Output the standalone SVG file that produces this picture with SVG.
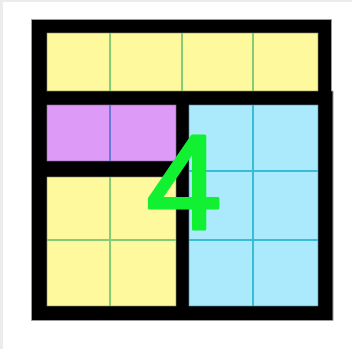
<svg xmlns="http://www.w3.org/2000/svg" width="352" height="349" viewBox="0 0 352 349">
<style>
.frame{fill:#000;stroke:#9a9a9a;stroke-width:1}
.y{fill:#fff99e;stroke:#8a8a6a;stroke-width:0.6}
.p{fill:#de9af7;stroke:#8a6a9a;stroke-width:0.6}
.b{fill:#aaeafc;stroke:#5a8a9a;stroke-width:0.6}
.gy{stroke:#86cc78;stroke-width:2}
.gp{stroke:#6a78d8;stroke-width:2}
.gb{stroke:#38bcd8;stroke-width:2}
.num{font-family:"Liberation Sans",Arial,sans-serif;font-size:136px;fill:#12f032;stroke:#12f032;stroke-width:3;stroke-linejoin:round}
</style>
<rect x="0" y="0" width="352" height="349" fill="#ececec"/>
<rect x="3" y="2" width="349" height="347" fill="#fff"/>
<g id="frame">
<path class="frame" d="M31.5 19.5 H331.5 V91 H333 V320.5 H31.5 Z"/>
</g>
<g id="top-yellow">
<rect class="y" x="47" y="33" width="271" height="58"/>
<g class="gy"><line x1="110" y1="33" x2="110" y2="91"/><line x1="182" y1="33" x2="182" y2="91"/><line x1="253" y1="33" x2="253" y2="91"/></g>
</g>
<g id="purple">
<rect class="p" x="47" y="105" width="129" height="56"/>
<line class="gp" x1="110" y1="105" x2="110" y2="161"/>
</g>
<g id="bottom-yellow">
<rect class="y" x="47" y="177" width="129" height="129"/>
<g class="gy"><line x1="110" y1="177" x2="110" y2="306"/><line x1="47" y1="240" x2="176" y2="240"/></g>
</g>
<g id="blue">
<rect class="b" x="189" y="105" width="129" height="201"/>
<g class="gb"><line x1="253" y1="105" x2="253" y2="306"/><line x1="189" y1="171" x2="318" y2="171"/><line x1="189" y1="240" x2="318" y2="240"/></g>
</g>
<g id="label">
<text class="num" x="184" y="228.5" text-anchor="middle">4</text>
</g>
</svg>
